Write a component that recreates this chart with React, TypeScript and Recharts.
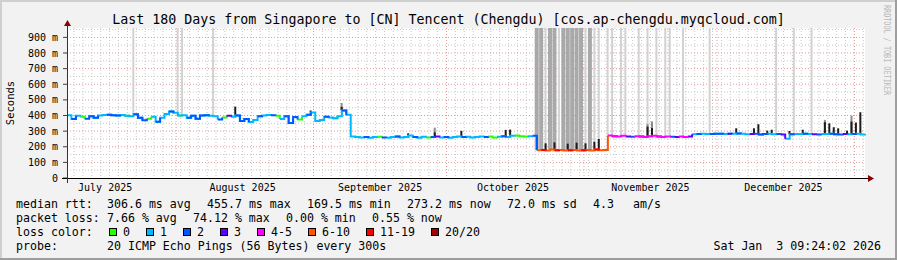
import { ComposedChart, Line, Bar, XAxis, YAxis, CartesianGrid } from 'recharts';

const FONT = '"DejaVu Sans Mono", monospace';
const DAY_MS = 86400000;
// graph start: 180 days before Sat Jan 3 09:24 2026 (local time, handled as UTC)
const START = Date.UTC(2025, 6, 7, 9, 24);
const dayOf = (y: number, m: number, d: number) => (Date.UTC(y, m, d) - START) / DAY_MS;

// x axis
const monthLabels = ['July 2025', 'August 2025', 'September 2025', 'October 2025', 'November 2025', 'December 2025'];
const monthMids = [dayOf(2025, 6, 16), dayOf(2025, 7, 16), dayOf(2025, 8, 16), dayOf(2025, 9, 16), dayOf(2025, 10, 16), dayOf(2025, 11, 16)];
const monthStarts = [dayOf(2025, 7, 1), dayOf(2025, 8, 1), dayOf(2025, 9, 1), dayOf(2025, 10, 1), dayOf(2025, 11, 1), dayOf(2026, 0, 1)];
const minorDays: number[] = [];
for (let d = dayOf(2025, 6, 9); d < 180; d += 2) minorDays.push(d);

// y axis (ms)
const yTicks = [0, 100, 200, 300, 400, 500, 600, 700, 800, 900];
const yMinor = [50, 150, 250, 350, 450, 550, 650, 750, 850, 950];
const Y_TOP = 960;

// daily median rtt (ms), day 0 = Jul 7
const median = [
  402, 378, 398, 392, 380, 396, 385, 400, 403, 405,
  402, 400, 404, 398, 395, 408, 385, 370, 380, 392,
  360, 385, 410, 425, 418, 400, 402, 385, 398, 380,
  400, 402, 398, 395, 375, 388, 398, 392, 400, 365,
  378, 358, 372, 395, 400, 403, 402, 398, 378, 395,
  352, 390, 375, 395, 405, 420, 365, 372, 392, 388,
  382, 395, 432, 405, 265, 262, 260, 263, 258, 262,
  264, 260, 258, 262, 265, 260, 262, 272, 262, 258,
  264, 260, 262, 265, 260, 263, 258, 262, 266, 262,
  264, 260, 263, 266, 262, 265, 260, 264, 268, 262,
  270, 272, 268, 266, 268, 270, 178, 180, 176, 182,
  178, 180, 176, 178, 180, 176, 178, 180, 176, 182,
  178, 180, 272, 268, 265, 270, 266, 264, 268, 265,
  262, 268, 270, 265, 262, 266, 264, 262, 265, 263,
  266, 280, 282, 283, 281, 282, 284, 283, 282, 284,
  283, 285, 283, 280, 282, 284, 278, 282, 283, 280,
  282, 278, 252, 280, 282, 281, 283, 282, 280, 279,
  282, 281, 283, 280, 278, 282, 280, 281, 283, 279,
  282,
];

// loss bucket per day: 0 | 1 | 2 | 3 | 4-5 | 6-10 | 11-19 | 20/20
const loss = [
  1, 2, 1, 0, 2, 1, 2, 1, 1, 2,
  1, 2, 1, 0, 1, 2, 1, 2, 0, 1,
  2, 1, 1, 2, 1, 0, 1, 2, 1, 2,
  1, 2, 1, 1, 2, 0, 3, 1, 2, 1,
  2, 1, 1, 2, 1, 1, 2, 0, 1, 2,
  1, 2, 0, 1, 2, 1, 0, 1, 2, 1,
  0, 1, 2, 1, 1, 0, 1, 2, 1, 1,
  0, 2, 1, 1, 2, 1, 0, 1, 2, 1,
  1, 0, 2, 3, 1, 2, 1, 0, 1, 2,
  1, 1, 0, 1, 2, 0, 0, 1, 2, 1,
  1, 0, 0, 0, 1, 2, 5, 6, 5, 5,
  6, 5, 5, 6, 5, 5, 6, 5, 5, 6,
  5, 5, 4, 3, 4, 4, 3, 2, 4, 3,
  4, 1, 4, 3, 4, 4, 2, 3, 4, 4,
  3, 1, 2, 1, 1, 2, 1, 2, 1, 3,
  1, 2, 1, 1, 3, 2, 1, 2, 1, 1,
  2, 3, 1, 2, 1, 1, 2, 1, 3, 2,
  1, 1, 2, 1, 2, 3, 1, 2, 1, 1,
  2,
];
const lossLabels = ['0', '1', '2', '3', '4-5', '6-10', '11-19', '20/20'];
const lossColors = ['#26ff00', '#00b8ff', '#0059ff', '#5e00ff', '#ff00ff', '#ff5500', '#ff0000', '#a10000'];

// smoke: pings reaching the top of the graph
const tallDarkDays = [106, 107, 109, 110, 112, 113, 114, 115, 116, 118];
const tallLightDays = [15, 25, 26, 33, 108, 111, 117, 119, 120, 122, 123, 125, 126, 129, 131, 133, 135, 136, 139, 145, 160, 164, 168];
// smoke: shorter grey spread
const midSmokeDays = [62, 83, 131, 132, 171, 177];
const midSmokeTops = [480, 322, 345, 362, 372, 400];
// smoke: dense dark spread just above the median
const spikeDays = [38, 55, 62, 77, 83, 89, 99, 100, 108, 110, 113, 115, 117, 119, 120, 131, 132, 151, 155, 156, 158, 159, 163, 166, 171, 172, 173, 174, 176, 177, 178, 179];
const spikeTops = [457, 432, 455, 286, 292, 302, 308, 310, 222, 228, 220, 226, 222, 232, 250, 329, 320, 318, 318, 344, 303, 309, 301, 309, 357, 350, 325, 318, 303, 361, 355, 421];

const rows = median.map((m, i) => {
  const row: Record<string, any> = { day: i, med: m };
  lossColors.forEach((_, c) => {
    row['c' + c] = loss[i] === c || (i > 0 && loss[i - 1] === c) ? m : null;
  });
  return row;
});
tallDarkDays.forEach(d => { rows[d].dark = [rows[d].med, Y_TOP]; });
tallLightDays.forEach(d => { rows[d].light = [rows[d].med, Y_TOP]; });
midSmokeDays.forEach((d, k) => { rows[d].mid = [rows[d].med, midSmokeTops[k]]; });
spikeDays.forEach((d, k) => { rows[d].spike = [rows[d].med, spikeTops[k]]; });

const legendRtt: [number, string][] = [
  [107, '306.6 ms avg'], [207, '455.7 ms max'], [307, '169.5 ms min'],
  [407, '273.2 ms now'], [507, '72.0 ms sd'], [593, '4.3'], [633, 'am/s'],
];
const legendLoss: [number, string][] = [
  [107, '7.66 % avg'], [193, '74.12 % max'], [286, '0.00 % min'], [372, '0.55 % now'],
];
const legendBoxX = [109, 146, 183, 220, 257, 308, 366, 431];

const hiddenX = (id: string) => (
  <XAxis xAxisId={id} dataKey="day" type="number" domain={[0, 180]} hide allowDataOverflow />
);

export default function App() {
  const txt = { fontFamily: FONT, fontSize: 11.6, fill: '#000' };
  return (
    <div style={{ position: 'absolute', left: 0, top: 0, width: 897, height: 260, background: '#f2f2f2' }}>
      <ComposedChart width={897} height={260} data={rows} margin={{ top: 28, right: 32, bottom: 62, left: 8 }}>
        <CartesianGrid
          fill="#ffffff"
          stroke="#c8c8c8"
          strokeDasharray="1 2"
          horizontalValues={yMinor}
          verticalValues={minorDays}
        />
        <CartesianGrid
          stroke="#e49a9a"
          strokeDasharray="1 2"
          horizontalValues={yTicks.slice(1)}
          verticalValues={monthStarts}
        />
        <XAxis
          dataKey="day"
          type="number"
          domain={[0, 180]}
          ticks={monthMids}
          interval={0}
          tickFormatter={(_v: number, i: number) => monthLabels[i]}
          tick={{ fontFamily: FONT, fontSize: 10, fill: '#000' }}
          tickLine={false}
          axisLine={false}
          tickSize={0}
          tickMargin={6}
          height={20}
        />
        {hiddenX('light')}
        {hiddenX('dark')}
        {hiddenX('mid')}
        {hiddenX('spike')}
        <YAxis
          type="number"
          domain={[0, Y_TOP]}
          ticks={yTicks}
          interval={0}
          allowDataOverflow
          tickFormatter={(v: number) => (v === 0 ? '0' : `${v} m`)}
          tick={{ fontFamily: FONT, fontSize: 10, fill: '#000' }}
          axisLine={false}
          tickLine={{ stroke: '#404040' }}
          tickSize={4}
          tickMargin={5}
          width={59}
        />
        <Bar xAxisId="light" dataKey="light" fill="#d2d2d2" barSize={2} isAnimationActive={false} />
        <Bar xAxisId="dark" dataKey="dark" fill="#a9a9a9" barSize={4} isAnimationActive={false} />
        <Bar xAxisId="mid" dataKey="mid" fill="#8c8c8c" barSize={2} isAnimationActive={false} />
        <Bar xAxisId="spike" dataKey="spike" fill="#1c1c1c" barSize={2} isAnimationActive={false} />
        {lossColors.map((col, c) => (
          <Line
            key={c}
            dataKey={'c' + c}
            type="stepAfter"
            stroke={col}
            strokeWidth={2}
            dot={false}
            activeDot={false}
            isAnimationActive={false}
          />
        ))}
      </ComposedChart>

      <svg width={897} height={260} style={{ position: 'absolute', left: 0, top: 0, pointerEvents: 'none' }}>
        {/* frame */}
        <rect x={0} y={0} width={897} height={2} fill="#cfcfcf" />
        <rect x={0} y={0} width={2} height={260} fill="#cfcfcf" />
        <rect x={0} y={258} width={897} height={2} fill="#9e9e9e" />
        <rect x={895} y={0} width={2} height={260} fill="#9e9e9e" />

        {/* axes with arrows */}
        <line x1={62} x2={869} y1={178.5} y2={178.5} stroke="#000" />
        <polygon points="868,175 874,178.5 868,182" fill="#8b0000" />
        <line x1={67.5} x2={67.5} y1={183} y2={25} stroke="#333" />
        <polygon points="64,26 67.5,20 71,26" fill="#8b0000" />

        <text x={448.5} y={24} textAnchor="middle" style={{ fontFamily: FONT, fontSize: 13.3, fill: '#000' }}>
          Last 180 Days from Singapore to [CN] Tencent (Chengdu) [cos.ap-chengdu.myqcloud.com]
        </text>
        <text transform="translate(14,103) rotate(-90)" textAnchor="middle" style={{ fontFamily: FONT, fontSize: 10.5, fill: '#000' }}>
          Seconds
        </text>
        <text transform="translate(884,5) rotate(90)" textLength={90} lengthAdjust="spacingAndGlyphs"
          style={{ fontFamily: FONT, fontSize: 9, fill: '#b8b8b8' }}>
          RRDTOOL / TOBI OETIKER
        </text>

        {/* legend */}
        <text x={16} y={208} style={txt}>median rtt:</text>
        {legendRtt.map(([x, s]) => <text key={s} x={x} y={208} style={txt}>{s}</text>)}
        <text x={16} y={222} style={txt}>packet loss:</text>
        {legendLoss.map(([x, s]) => <text key={s} x={x} y={222} style={txt}>{s}</text>)}
        <text x={16} y={236} style={txt}>loss color:</text>
        {lossColors.map((col, c) => (
          <g key={c}>
            <rect x={legendBoxX[c] + 0.5} y={228.5} width={7} height={7} fill={col} stroke="#000" />
            <text x={legendBoxX[c] + 14} y={236} style={txt}>{lossLabels[c]}</text>
          </g>
        ))}
        <text x={16} y={250} style={txt}>probe:</text>
        <text x={107} y={250} style={txt}>20 ICMP Echo Pings (56 Bytes) every 300s</text>
        <text x={881} y={250} textAnchor="end" style={{ ...txt, whiteSpace: 'pre' }} xmlSpace="preserve">
          Sat Jan  3 09:24:02 2026
        </text>
      </svg>
    </div>
  );
}
